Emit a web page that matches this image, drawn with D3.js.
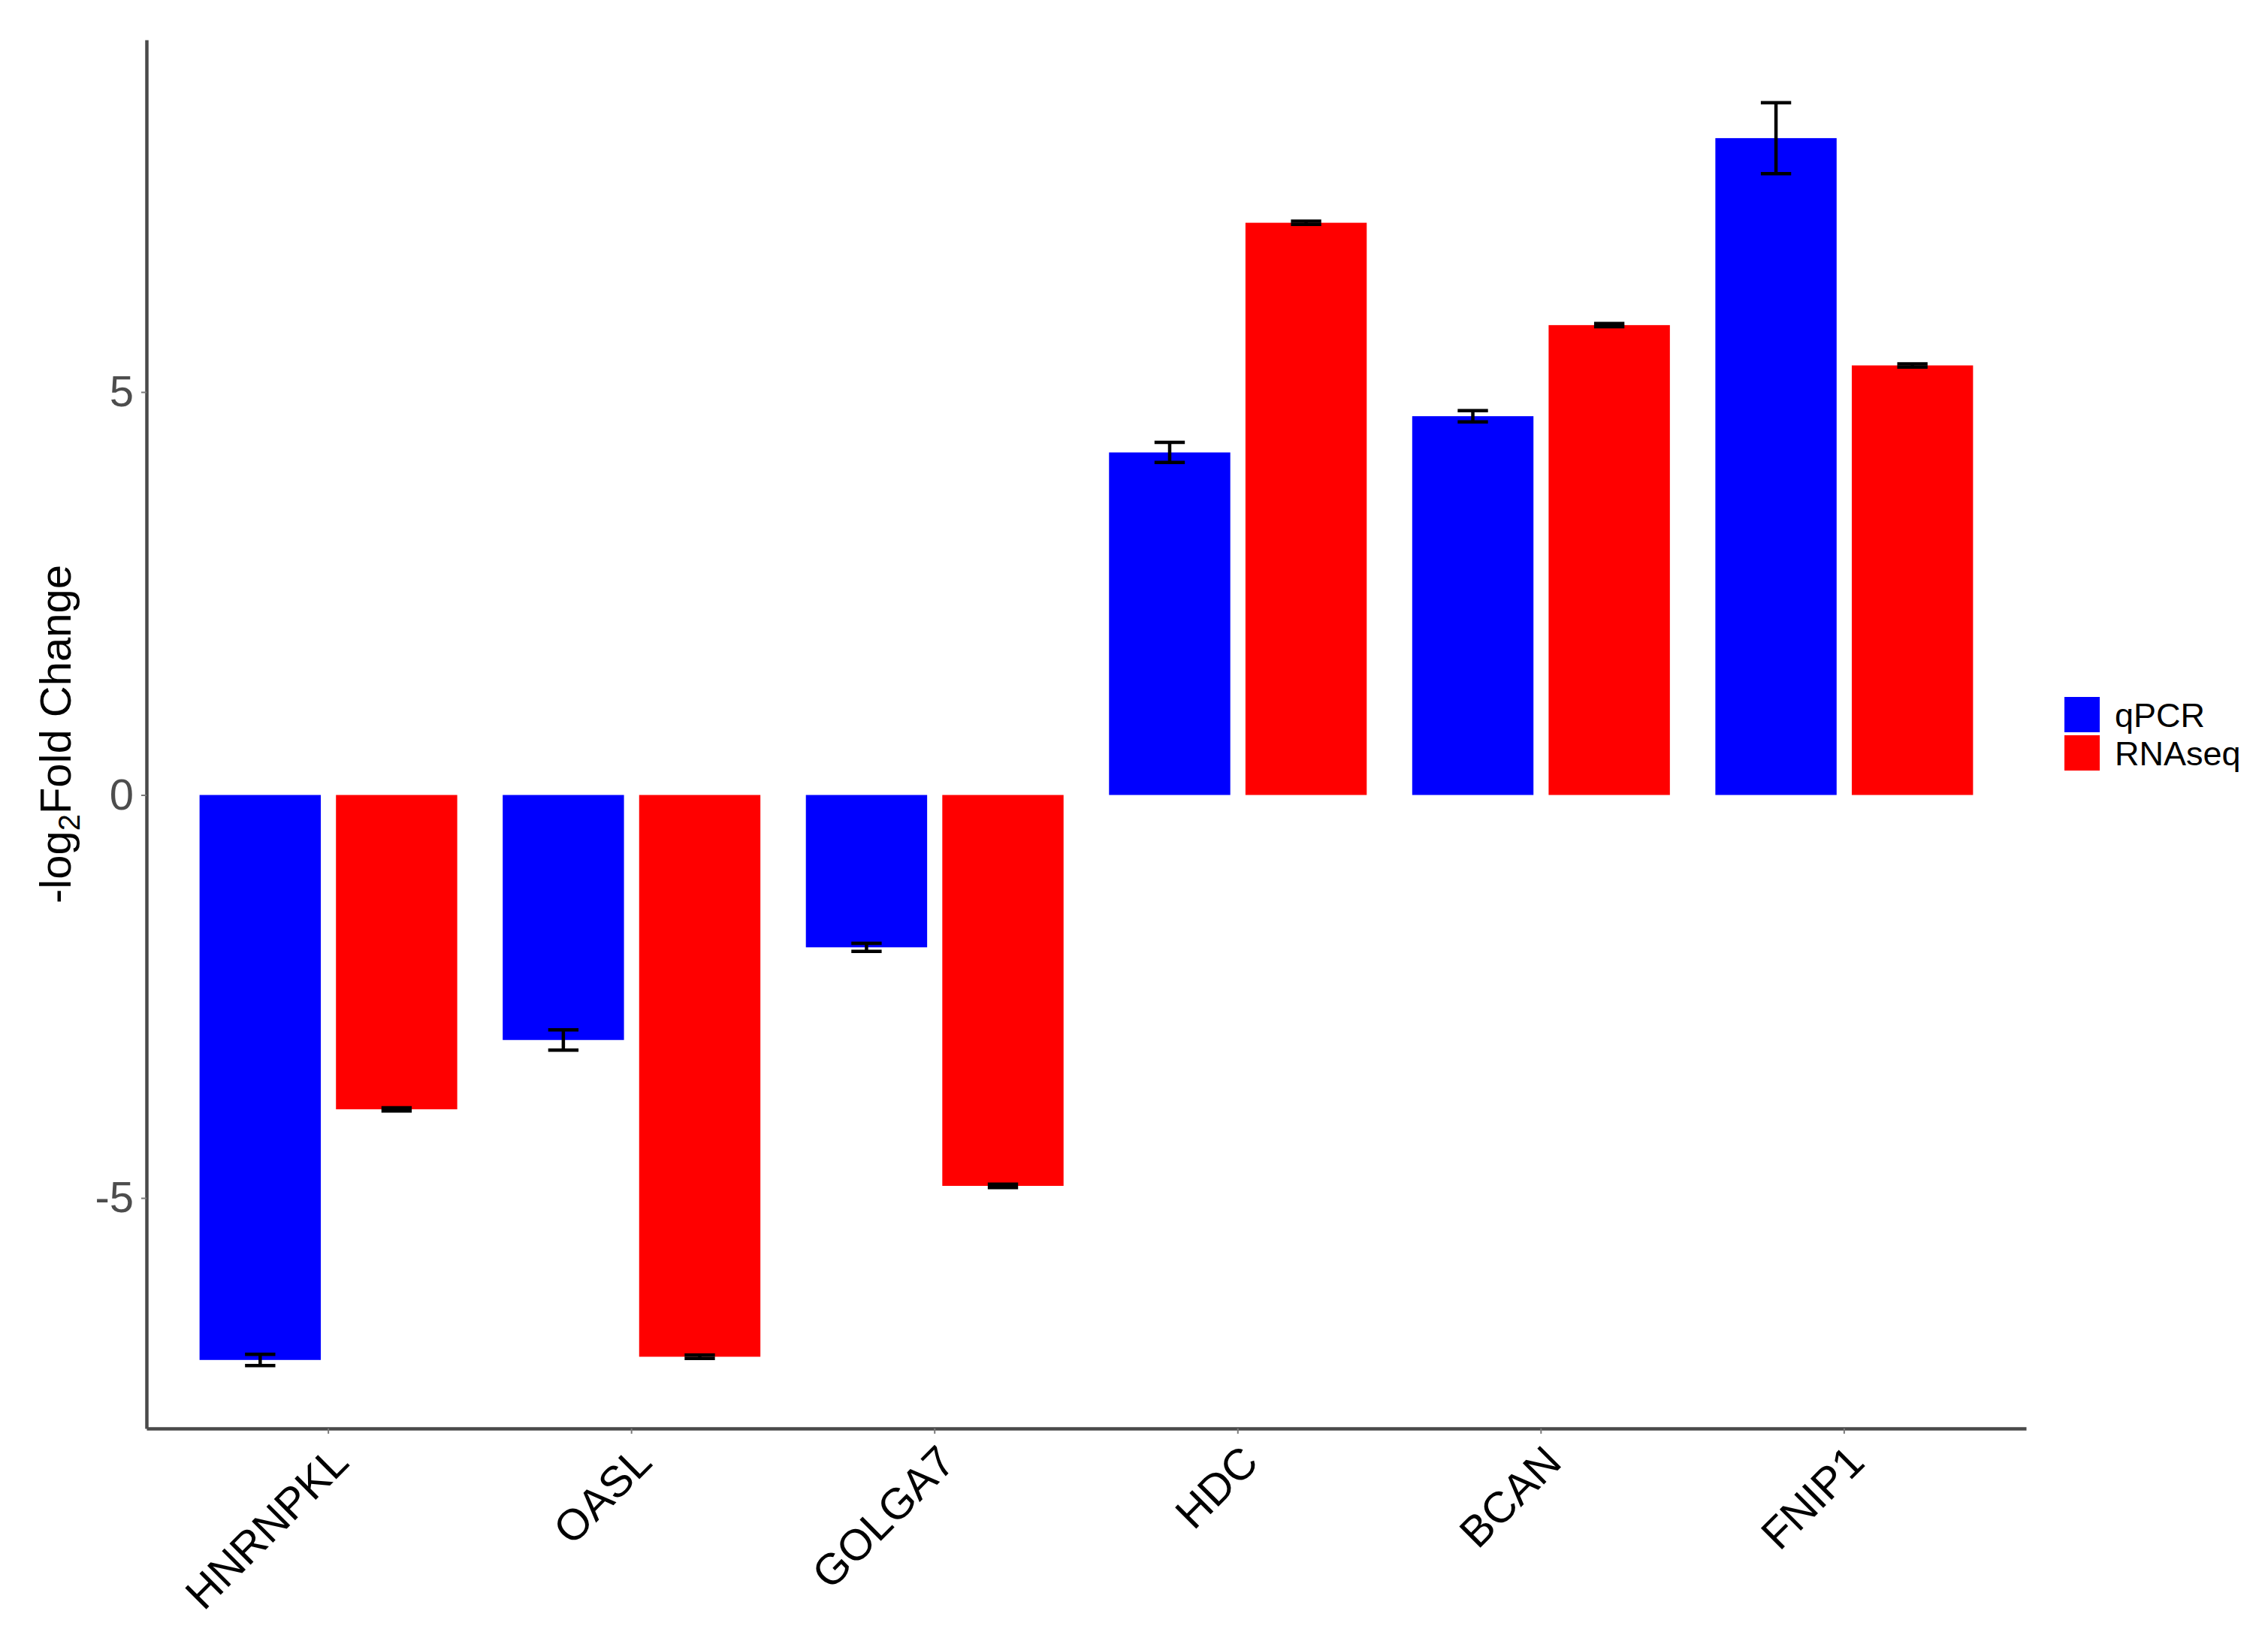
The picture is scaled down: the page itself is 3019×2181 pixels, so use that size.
<!DOCTYPE html>
<html>
<head>
<meta charset="utf-8">
<script src="https://cdn.jsdelivr.net/npm/d3@7"></script>
<style>
  html, body { margin: 0; padding: 0; background: #ffffff; }
  svg { display: block; }
  text { font-family: "Liberation Sans", Arial, Helvetica, sans-serif; }
</style>
</head>
<body>
<script>
// ---- data ----
const categories = ["HNRNPKL", "OASL", "GOLGA7", "HDC", "BCAN", "FNIP1"];
const seriesNames = ["qPCR", "RNAseq"];
const seriesColors = ["#0000FF", "#FF0000"];
const qpcrValues = [-7.01, -3.04, -1.89, 4.25, 4.70, 8.15];
const qpcrErrors = [0.07, 0.125, 0.05, 0.125, 0.07, 0.44];
const rnaseqValues = [-3.90, -6.97, -4.85, 7.10, 5.83, 5.33];
const rnaseqErrors = [0.02, 0.02, 0.02, 0.02, 0.02, 0.02];
const yTicks = [-5, 0, 5];
const yTitleMain = "-log";
const yTitleSub = "2";
const yTitleRest = "Fold Change";

// ---- layout ----
const W = 3019, H = 2181;
const plot = { left: 195, right: 2697, top: 53, bottom: 1902 };

const svg = d3.select("body").append("svg")
  .attr("width", W).attr("height", H);

// scales
const yMin = -7.86, yMax = 9.37;
const y = d3.scaleLinear().domain([yMin, yMax]).range([plot.bottom, plot.top]);

const x = d3.scaleBand().domain(categories)
  .range([plot.left, plot.right])
  .paddingInner(0).paddingOuter(0.1);
const step = x.step();
const xSub = d3.scaleBand().domain(seriesNames)
  .range([0.05 * step, 0.95 * step]);
const barW = 0.4 * step;
const capW = 0.1 * step;

const rows = [];
categories.forEach((c, i) => {
  rows.push({ cat: c, series: "qPCR", value: qpcrValues[i], err: qpcrErrors[i] });
  rows.push({ cat: c, series: "RNAseq", value: rnaseqValues[i], err: rnaseqErrors[i] });
});
const color = d3.scaleOrdinal().domain(seriesNames).range(seriesColors);
const cx = d => x(d.cat) + xSub(d.series) + xSub.bandwidth() / 2;

// bars
svg.append("g").selectAll("rect").data(rows).join("rect")
  .attr("x", d => cx(d) - barW / 2)
  .attr("width", barW)
  .attr("y", d => y(Math.max(0, d.value)))
  .attr("height", d => Math.abs(y(d.value) - y(0)))
  .attr("fill", d => color(d.series));

// error bars
const eg = svg.append("g").attr("stroke", "#000").attr("stroke-width", 4.5).attr("fill", "none");
rows.forEach(d => {
  const x0 = cx(d);
  const yl = y(d.value - d.err), yh = y(d.value + d.err);
  eg.append("line").attr("x1", x0).attr("x2", x0).attr("y1", yl).attr("y2", yh);
  eg.append("line").attr("x1", x0 - capW / 2).attr("x2", x0 + capW / 2).attr("y1", yl).attr("y2", yl);
  eg.append("line").attr("x1", x0 - capW / 2).attr("x2", x0 + capW / 2).attr("y1", yh).attr("y2", yh);
});

// y axis
const yAxis = svg.append("g")
  .attr("transform", `translate(${plot.left},0)`)
  .call(d3.axisLeft(y).tickValues(yTicks).tickSize(7).tickSizeOuter(0).tickPadding(10)
    .tickFormat(d => d < 0 ? "-" + Math.abs(d) : String(d)));
yAxis.select(".domain").attr("stroke", "#4a4a4a").attr("stroke-width", 4.5);
yAxis.selectAll(".tick line").attr("stroke", "#7a7a7a").attr("stroke-width", 2);
yAxis.selectAll(".tick text")
  .attr("fill", "#4d4d4d")
  .attr("font-size", 58)
  .attr("font-family", "Liberation Sans, Arial, sans-serif");

// x axis
const xAxis = svg.append("g")
  .attr("transform", `translate(0,${plot.bottom})`)
  .call(d3.axisBottom(x).tickSize(7).tickSizeOuter(0));
xAxis.select(".domain").attr("stroke", "#4a4a4a").attr("stroke-width", 4.5);
xAxis.selectAll(".tick line").attr("stroke", "#7a7a7a").attr("stroke-width", 2);
xAxis.selectAll(".tick text")
  .attr("fill", "#000")
  .attr("font-size", 58)
  .attr("font-family", "Liberation Sans, Arial, sans-serif")
  .attr("text-anchor", "end")
  .attr("dy", null)
  .attr("y", null)
  .attr("transform", "translate(30,48) rotate(-45)");

// y title
const yt = svg.append("text")
  .attr("transform", `translate(94,${(plot.top + plot.bottom) / 2}) rotate(-90)`)
  .attr("text-anchor", "middle")
  .attr("font-size", 58)
  .attr("fill", "#000");
yt.append("tspan").text(yTitleMain);
yt.append("tspan").attr("font-size", 40).attr("dy", 12).text(yTitleSub);
yt.append("tspan").attr("dy", -12).text(yTitleRest);

// legend
const lg = svg.append("g").attr("transform", "translate(2748,928)");
seriesNames.forEach((s, i) => {
  lg.append("rect").attr("x", 0).attr("y", i * 51).attr("width", 47).attr("height", 47)
    .attr("fill", seriesColors[i]);
  lg.append("text").attr("x", 67).attr("y", i * 51 + 40)
    .attr("font-size", 45).attr("fill", "#000").text(s);
});
</script>
</body>
</html>
